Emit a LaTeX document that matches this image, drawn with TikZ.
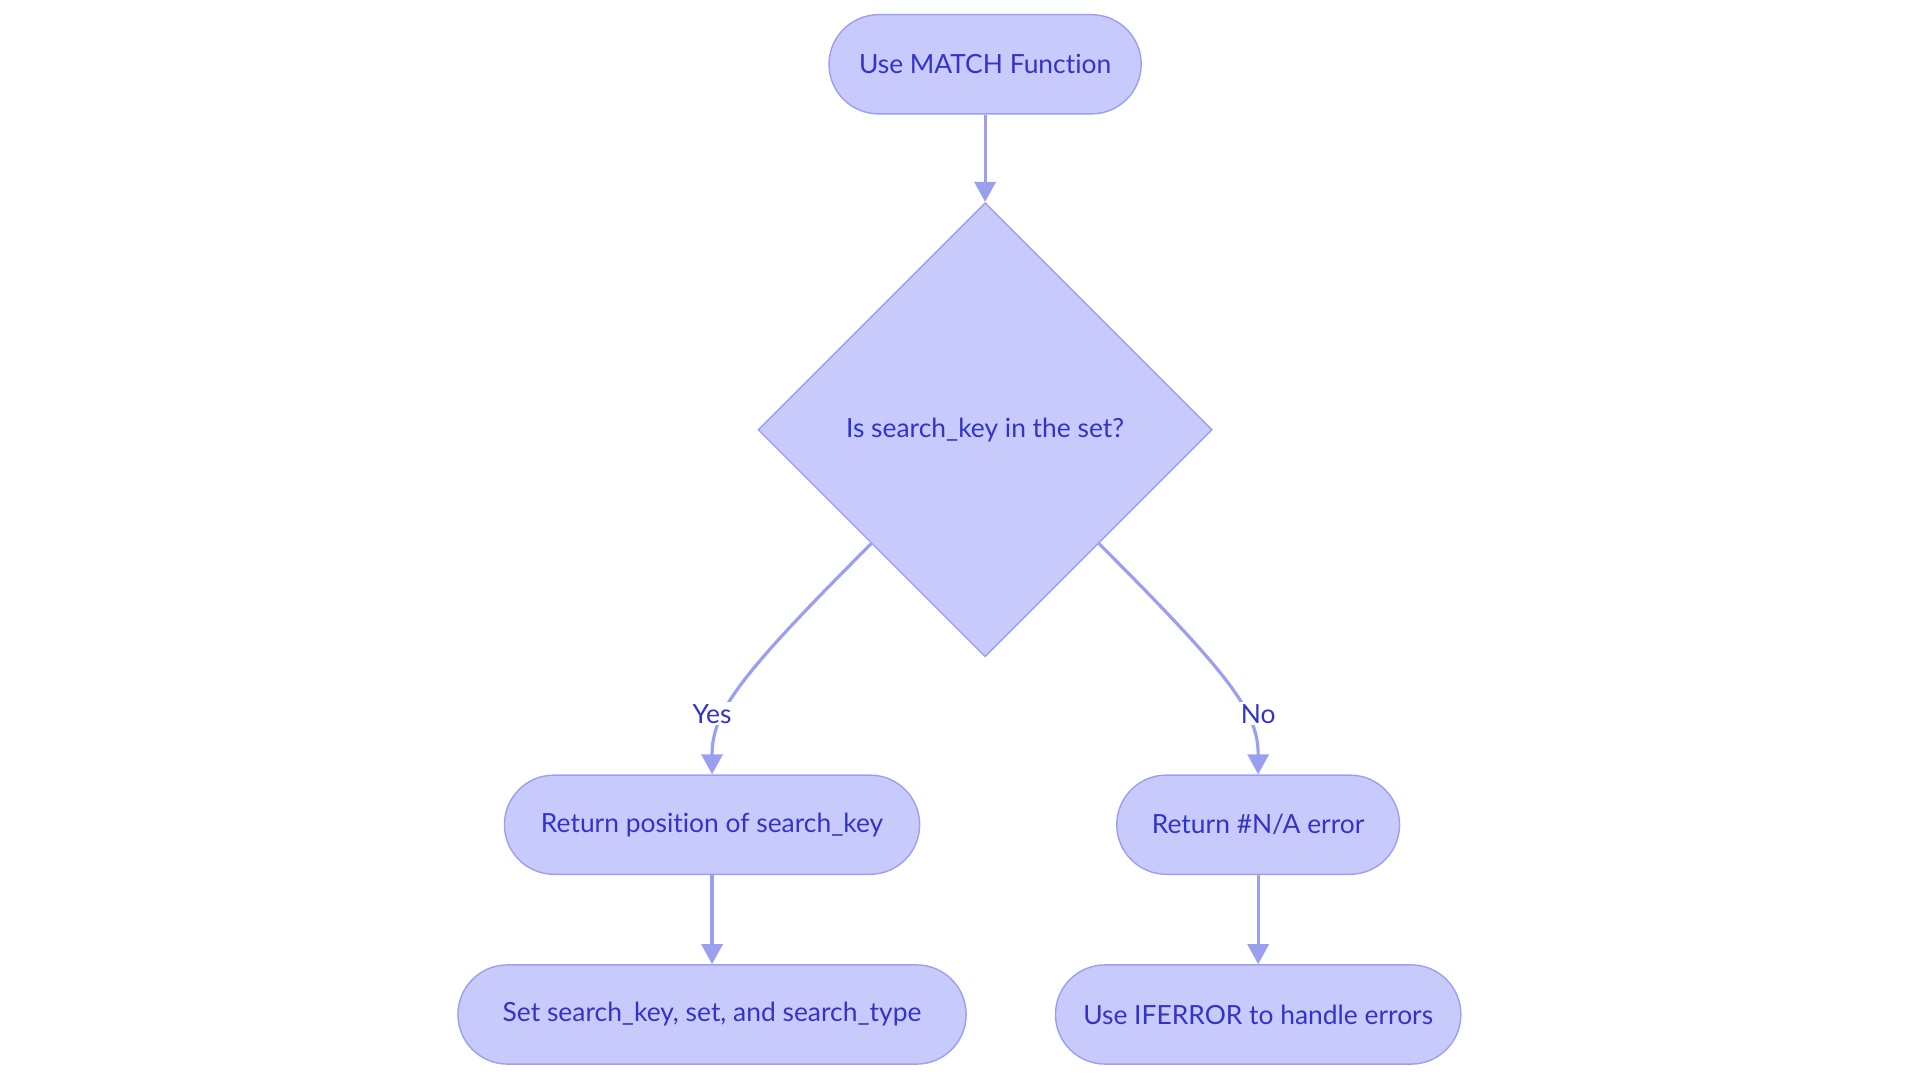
\documentclass[tikz,border=0pt]{standalone}
\usepackage{fontspec}
\setmainfont{Lato}[Ligatures={NoCommon}]
\usetikzlibrary{shapes.geometric,shapes.misc,arrows.meta}
\definecolor{nodefill}{RGB}{201,202,252}
\definecolor{nodeline}{RGB}{155,159,240}
\definecolor{edgecol}{RGB}{155,159,240}
\definecolor{txt}{RGB}{50,52,200}
\tikzset{
  term/.style={rounded rectangle, draw=nodeline, fill=nodefill, line width=0.7pt,
    minimum height=49.6pt, inner sep=0pt, text=txt, font=\fontsize{13.2}{16}\selectfont},
  decision/.style={diamond, draw=nodeline, fill=nodefill, line width=0.7pt,
    minimum width=227.1pt, minimum height=227.1pt, inner sep=0pt, aspect=1,
    text=txt, font=\fontsize{13.2}{16}\selectfont},
  edge/.style={draw=edgecol, line width=1.6pt,
    -{Triangle[length=10pt,width=10.5pt]}},
  elabel/.style={fill=white, inner sep=1pt, text=txt, font=\fontsize{13.2}{16}\selectfont}
}
\begin{document}
\begin{tikzpicture}[x=0.61224pt, y=-0.61224pt]
\useasboundingbox (0,0) rectangle (1568,884);
\node[term, minimum width=156.1pt] (start) at (804.5,52.5) {Use MATCH Function};
\node[decision] (dia) at (804.5,351) {Is search\_key in the set?};
\node[term, minimum width=207.6pt] (yes) at (581.5,673.5) {Return position of search\_key};
\node[term, minimum width=141.4pt] (no) at (1027.5,673.5) {Return \#N/A error};
\node[term, minimum width=254.1pt] (set) at (581.5,828.5) {Set search\_key, set, and search\_type};
\node[term, minimum width=202.7pt] (iferr) at (1027.5,828.5) {Use IFERROR to handle errors};
\draw[edge] (start.south) -- (dia.north);
\draw[edge] (dia.south west) .. controls +(-110,110) and +(0,-50) .. (yes.north);
\draw[edge] (dia.south east) .. controls +(110,110) and +(0,-50) .. (no.north);
\node[elabel] (ly) at (581.5,583) {Yes};
\node[elabel] (ln) at (1027.5,583) {No};
\draw[edge] (yes.south) -- (set.north);
\draw[edge] (no.south) -- (iferr.north);
\end{tikzpicture}
\end{document}
